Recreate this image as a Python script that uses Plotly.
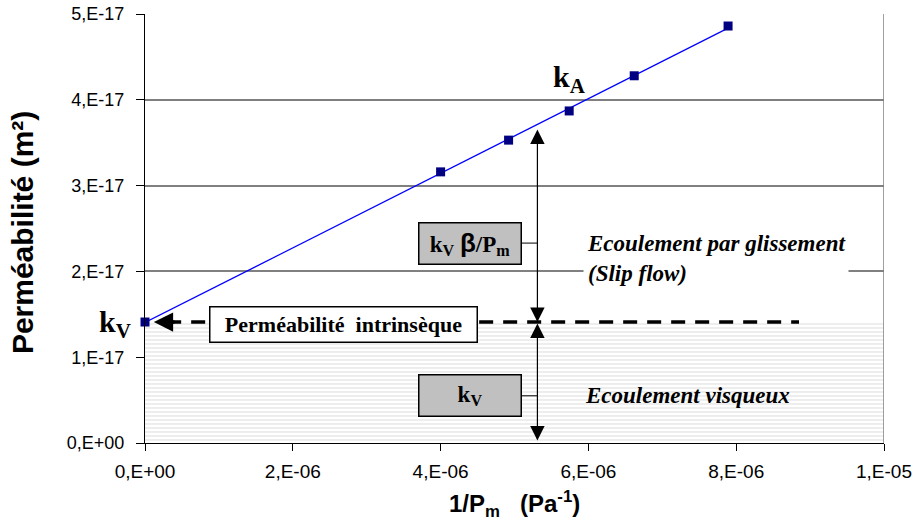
import numpy as np
import plotly.graph_objects as go

# Data
inv_pm = [0.0, 4.00e-6, 4.92e-6, 5.74e-6, 6.62e-6, 7.89e-6]
perm = [1.41e-17, 3.16e-17, 3.53e-17, 3.87e-17, 4.28e-17, 4.86e-17]
kv = perm[0]

x_tickvals = [0, 2e-6, 4e-6, 6e-6, 8e-6, 1e-5]
x_ticktext = ["0,E+00", "2,E-06", "4,E-06", "6,E-06", "8,E-06", "1,E-05"]
y_tickvals = [0, 1e-17, 2e-17, 3e-17, 4e-17, 5e-17]
y_ticktext = ["0,E+00", "1,E-17", "2,E-17", "3,E-17", "4,E-17", "5,E-17"]

X_MAX = 1e-5
Y_MAX = 5e-17

# linear trend
slope, intercept = np.polyfit(inv_pm, perm, 1)
fit_x = [min(inv_pm), max(inv_pm)]
fit_y = [slope * v + intercept for v in fit_x]

SERIF = "Liberation Serif, Times New Roman, serif"
SANS = "Liberation Sans, Arial, sans-serif"

fig = go.Figure()

# viscous-flow shaded zone
fig.add_trace(go.Scatter(
    x=[0, X_MAX, X_MAX, 0, 0], y=[0, 0, kv, kv, 0],
    mode="lines", line=dict(width=0), fill="toself",
    fillcolor="white",
    fillpattern=dict(shape="-", bgcolor="white", fgcolor="#c4c4c4", size=4, solidity=0.3),
    hoverinfo="skip", showlegend=False))

# trend line
fig.add_trace(go.Scatter(x=fit_x, y=fit_y, mode="lines",
                         line=dict(color="#0000FF", width=1.2),
                         showlegend=False, cliponaxis=False))
# points
fig.add_trace(go.Scatter(x=inv_pm, y=perm, mode="markers",
                         marker=dict(symbol="square", size=9, color="#000080",
                                     line=dict(width=0)),
                         showlegend=False, cliponaxis=False))

# dashed intrinsic permeability line
fig.add_shape(type="line", xref="x", yref="y", x0=0.30e-6, x1=8.85e-6, y0=kv, y1=kv,
              line=dict(color="black", width=3.5, dash="14px,10px"))
# right border
fig.add_shape(type="line", xref="x", yref="paper", x0=X_MAX, x1=X_MAX, y0=0, y1=1,
              line=dict(color="#808080", width=1.5))

# left arrowhead
fig.add_annotation(x=0.12e-6, y=kv, ax=0.42e-6, ay=kv, xref="x", yref="y",
                   axref="x", ayref="y", text="", showarrow=True,
                   arrowhead=2, arrowsize=1.1, arrowwidth=3.5, arrowcolor="black")

xv = 5.31e-6
# vertical double arrows
fig.add_annotation(x=xv, y=kv, ax=xv, ay=3.67e-17, xref="x", yref="y",
                   axref="x", ayref="y", text="", showarrow=True,
                   arrowhead=2, arrowsize=2.4, arrowwidth=1.2, arrowside="end+start",
                   startarrowhead=2, startarrowsize=2.4, arrowcolor="black")
fig.add_annotation(x=xv, y=0.03e-17, ax=xv, ay=kv, xref="x", yref="y",
                   axref="x", ayref="y", text="", showarrow=True,
                   arrowhead=2, arrowsize=2.4, arrowwidth=1.2, arrowside="end+start",
                   startarrowhead=2, startarrowsize=2.4, arrowcolor="black")

# connectors for boxes
fig.add_shape(type="line", xref="x", yref="y", x0=5.10e-6, x1=xv, y0=2.33e-17, y1=2.33e-17,
              line=dict(color="black", width=1))
fig.add_shape(type="line", xref="x", yref="y", x0=5.10e-6, x1=xv, y0=0.55e-17, y1=0.55e-17,
              line=dict(color="black", width=1))

# boxes
fig.add_annotation(x=4.40e-6, y=2.33e-17, xref="x", yref="y", showarrow=False,
                   text="<b>k<sub>V</sub> <span style='font-family:Liberation Sans, Arial;font-size:26px'>β</span>/P<sub>m</sub></b>",
                   font=dict(family=SERIF, size=23, color="black"),
                   bgcolor="#c0c0c0", bordercolor="black", borderwidth=1.5,
                   width=99, height=38, borderpad=1)
fig.add_annotation(x=4.40e-6, y=0.55e-17, xref="x", yref="y", showarrow=False,
                   text="<b>k<sub>V</sub></b>",
                   font=dict(family=SERIF, size=23, color="black"),
                   bgcolor="#c0c0c0", bordercolor="black", borderwidth=1.5,
                   width=99, height=38, borderpad=1)

fig.add_annotation(x=2.68e-6, y=kv, yshift=-2, xref="x", yref="y", showarrow=False,
                   text="<b>Perméabilité  intrinsèque</b>",
                   font=dict(family=SERIF, size=22, color="black"),
                   bgcolor="white", bordercolor="black", borderwidth=1.5,
                   width=264, height=32, borderpad=1)

# region labels
fig.add_annotation(x=5.93e-6, y=2.15e-17, xref="x", yref="y", showarrow=False,
                   xanchor="left", align="left",
                   text="<b><i>Ecoulement par glissement</i></b><br><b><i>(Slip flow)</i></b>",
                   font=dict(family=SERIF, size=23, color="black"),
                   bgcolor="white", borderpad=3)
fig.add_annotation(x=5.93e-6, y=0.55e-17, xref="x", yref="y", showarrow=False,
                   xanchor="left",
                   text="<b><i>Ecoulement visqueux</i></b>",
                   font=dict(family=SERIF, size=23, color="black"))

# k labels
fig.add_annotation(x=0, y=kv, xref="x", yref="y", showarrow=False, xanchor="right",
                   xshift=-12, yshift=-2, text="<b>k<sub>V</sub></b>",
                   font=dict(family=SERIF, size=30, color="black"))
fig.add_annotation(x=5.74e-6, y=4.24e-17, xref="x", yref="y", showarrow=False,
                   text="<b>k<sub>A</sub></b>",
                   font=dict(family=SERIF, size=30, color="black"))

# axis titles
fig.add_annotation(x=-0.166, y=0.49, xref="paper", yref="paper", showarrow=False,
                   xanchor="center", yanchor="middle",
                   textangle=-90, text="<b>Perméabilité (m²)</b>",
                   font=dict(family=SANS, size=30, color="black"))
fig.add_annotation(x=0.5, y=-0.098, xref="paper", yref="paper", showarrow=False,
                   xanchor="center", yanchor="top",
                   text="<b>1/P<sub>m</sub>   (Pa<sup>-1</sup>)</b>",
                   font=dict(family=SANS, size=24, color="black"))

fig.update_layout(
    width=918, height=526,
    margin=dict(l=145, r=34, t=14, b=83),
    paper_bgcolor="white", plot_bgcolor="white",
    xaxis=dict(range=[0, X_MAX], tickvals=x_tickvals, ticktext=x_ticktext,
               showgrid=False, zeroline=False, showline=True, linecolor="black",
               linewidth=1.2, ticks="outside", ticklen=7, tickcolor="black",
               automargin=False, ticklabelstandoff=4,
               tickfont=dict(family=SANS, size=19, color="black")),
    yaxis=dict(range=[0, Y_MAX], tickvals=y_tickvals, ticktext=y_ticktext,
               showgrid=True, gridcolor="#808080", gridwidth=1.8, zeroline=False,
               showline=True, linecolor="black", linewidth=1.2,
               ticks="outside", ticklen=8, tickcolor="black",
               automargin=False, ticklabelstandoff=8,
               tickfont=dict(family=SANS, size=18, color="black")),
    showlegend=False,
)

fig.write_html("out.html")
